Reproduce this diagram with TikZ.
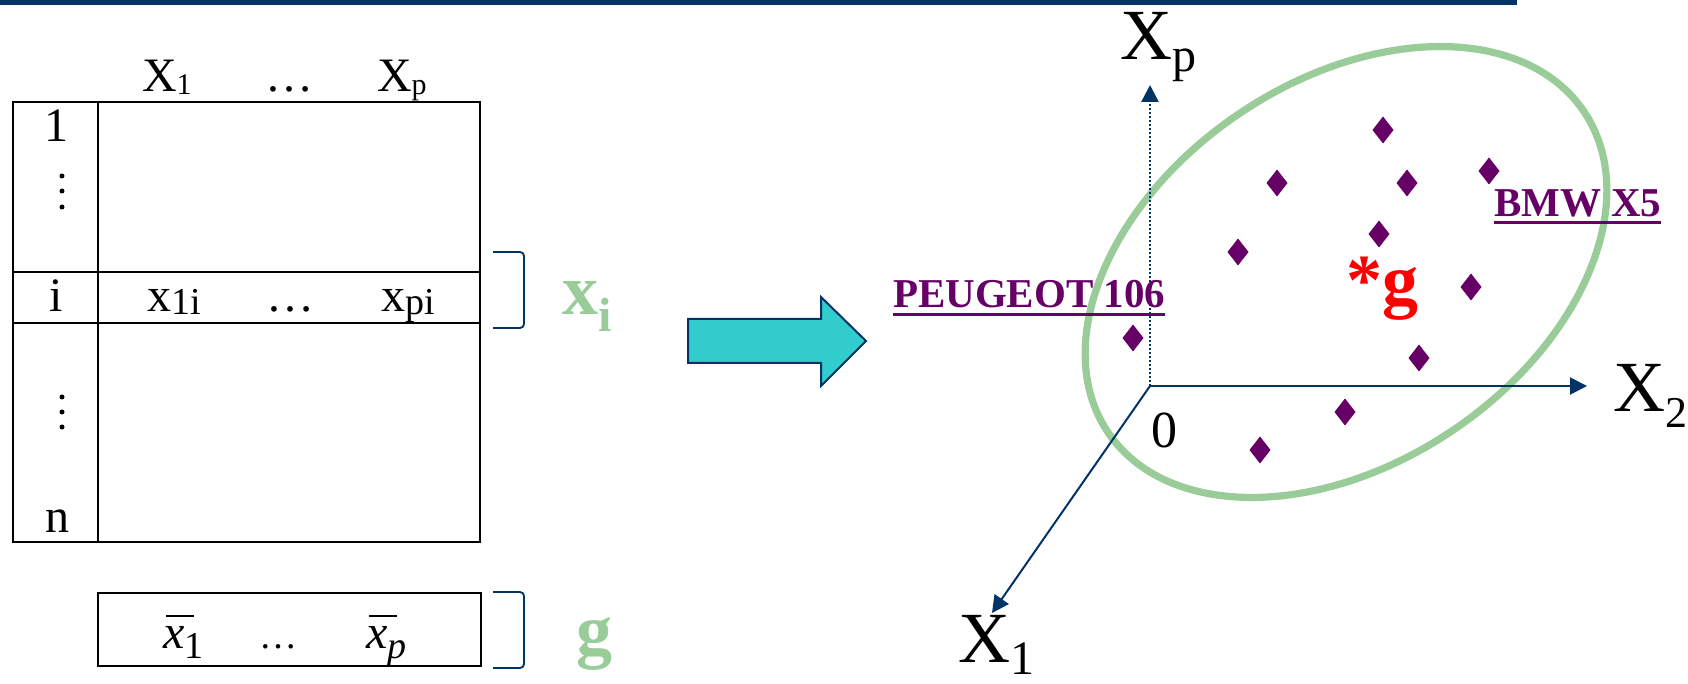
\documentclass[tikz,border=0pt]{standalone}
\usepackage{fontspec}
\setmainfont{Liberation Serif}
\usetikzlibrary{arrows.meta}
\definecolor{navy}{HTML}{003366}
\definecolor{cyanf}{HTML}{33CCCC}
\definecolor{lgreen}{HTML}{99CC99}
\definecolor{purp}{HTML}{660066}
\newcommand{\fs}[1]{\fontsize{#1}{#1}\selectfont}
\newcommand{\lowsub}[3]{\raisebox{-#1}{\fs{#2}#3}}
\newcommand{\xb}{\rlap{\hspace{1.5pt}\raisebox{15.5pt}{\rule{14pt}{0.9pt}}}\textit{x}}
\begin{document}
\begin{tikzpicture}[x=0.5pt,y=-0.5pt,
  txt/.style={inner sep=0pt, outer sep=0pt},
  tline/.style={line width=0.9pt, black},
  brk/.style={navy, line width=0.9pt, rounded corners=2pt},
  axis/.style={navy, line width=1pt, -{Triangle[width=8.5pt,length=8.5pt]}},
  dotaxis/.style={axis, line width=1.2pt, dash pattern=on 1.1pt off 0.9pt},
  ell/.style={lgreen, line width=3.6pt},
  dia/.style={fill=purp},
  car/.style={txt, anchor=base west, font=\fs{20.5}\bfseries, text=purp},
  ulin/.style={purp, line width=1.5pt},
  big/.style={txt, anchor=base west, font=\fs{36}},
  glab/.style={txt, anchor=base west, font=\fs{36}\bfseries, text=lgreen},
  cell/.style={txt, anchor=base west, font=\fs{24}},
  cellc/.style={txt, anchor=base, font=\fs{24}}
]
\useasboundingbox (0,0) rectangle (1688,684);
% top bar
\fill[navy] (0,0) rectangle (1517,5);

% ---- data table ----
\draw[tline] (12.7,102) rectangle (480,542);
\draw[tline] (98,102) -- (98,542);
\draw[tline] (12.7,272) -- (480,272);
\draw[tline] (12.7,323) -- (480,323);

\node[cell] (h1) at (142,92) {X\lowsub{1.5pt}{15}{1}};
\node[cellc] (hd) at (289,92) {…};
\node[cell] (hp) at (377,92) {X\lowsub{1.5pt}{15}{p}};

\node[cellc] (r1) at (56,142) {1};
\foreach \y in {176,191,207,397,412,427} \fill (62,\y) circle[radius=2.5];
\node[cellc] (ri) at (56,312) {i};
\node[cell] (x1i) at (147,312) {x\lowsub{1.5pt}{19}{1i}};
\node[cellc] (xd) at (290,312) {…};
\node[cell] (xpi) at (381,312) {x\lowsub{1.5pt}{19}{pi}};
\node[cellc] (rn) at (58,532) {n};

% ---- mean row ----
\draw[tline] (98,593) rectangle (481,666);
\node[cell] (m1) at (163,648) {\xb\lowsub{5pt}{19}{1}};
\node[txt, anchor=base, font=\fs{19}] (md) at (278,648) {…};
\node[cell] (mp) at (366,648) {\xb\lowsub{5pt}{19}{\textit{p}}};

% brackets
\draw[brk] (493,252) -- (524,252) -- (524,328) -- (493,328);
\draw[brk] (493,592) -- (524,592) -- (524,668) -- (493,668);
\node[glab] (xi) at (562,315) {x\lowsub{8.5pt}{24}{i}};
\node[glab] (gl) at (576,654) {g};

% ---- big arrow ----
\draw[navy, fill=cyanf, line width=1pt, line join=miter]
  (688,319) -- (821,319) -- (821,297) -- (866,341) -- (821,386) -- (821,363) -- (688,363) -- cycle;

% ---- scatter ----
\draw[ell, rotate around={34:(1346,272)}] (1346,272) ellipse[x radius=287, y radius=191];

\coordinate (O) at (1150,386);
\coordinate (Tp) at (1150,85);
\coordinate (T2) at (1587,386);
\coordinate (T1) at (992,613);
\draw[dotaxis] (O) -- (Tp);
\draw[axis] (O) -- (T2);
\draw[axis] (O) -- (T1);

\node[big] (lXp) at (1120,60) {X\lowsub{6pt}{24}{p}};
\node[big] (lX2) at (1613,412) {X\lowsub{8pt}{22}{2}};
\node[big] (lX1) at (958,662) {X\lowsub{6pt}{24}{1}};
\node[txt, anchor=base, font=\fs{26}] (zero) at (1164,447) {0};

\foreach \x/\y in {1383/130, 1277/183, 1407/183, 1489/171, 1379/234, 1238/252,
                   1471/287, 1133/338, 1419/358, 1345/412, 1260/450}
  \fill[dia, shift={(\x,\y)}] (0,-13.5) -- (10.5,0) -- (0,13.5) -- (-10.5,0) -- cycle;

\node[car] (peu) at (893,308) {PEUGEOT 106};
\draw[ulin] ([yshift=-3.5pt]peu.base west) -- ([yshift=-3.5pt]peu.base east);
\node[car] (bmw) at (1494,217) {BMW X5};
\draw[ulin] ([yshift=-3pt]bmw.base west) -- ([yshift=-3pt]bmw.base east);

\node[txt, anchor=base west, font=\fs{36}\bfseries, text=red] (gs) at (1346,305) {*g};
\end{tikzpicture}
\end{document}
